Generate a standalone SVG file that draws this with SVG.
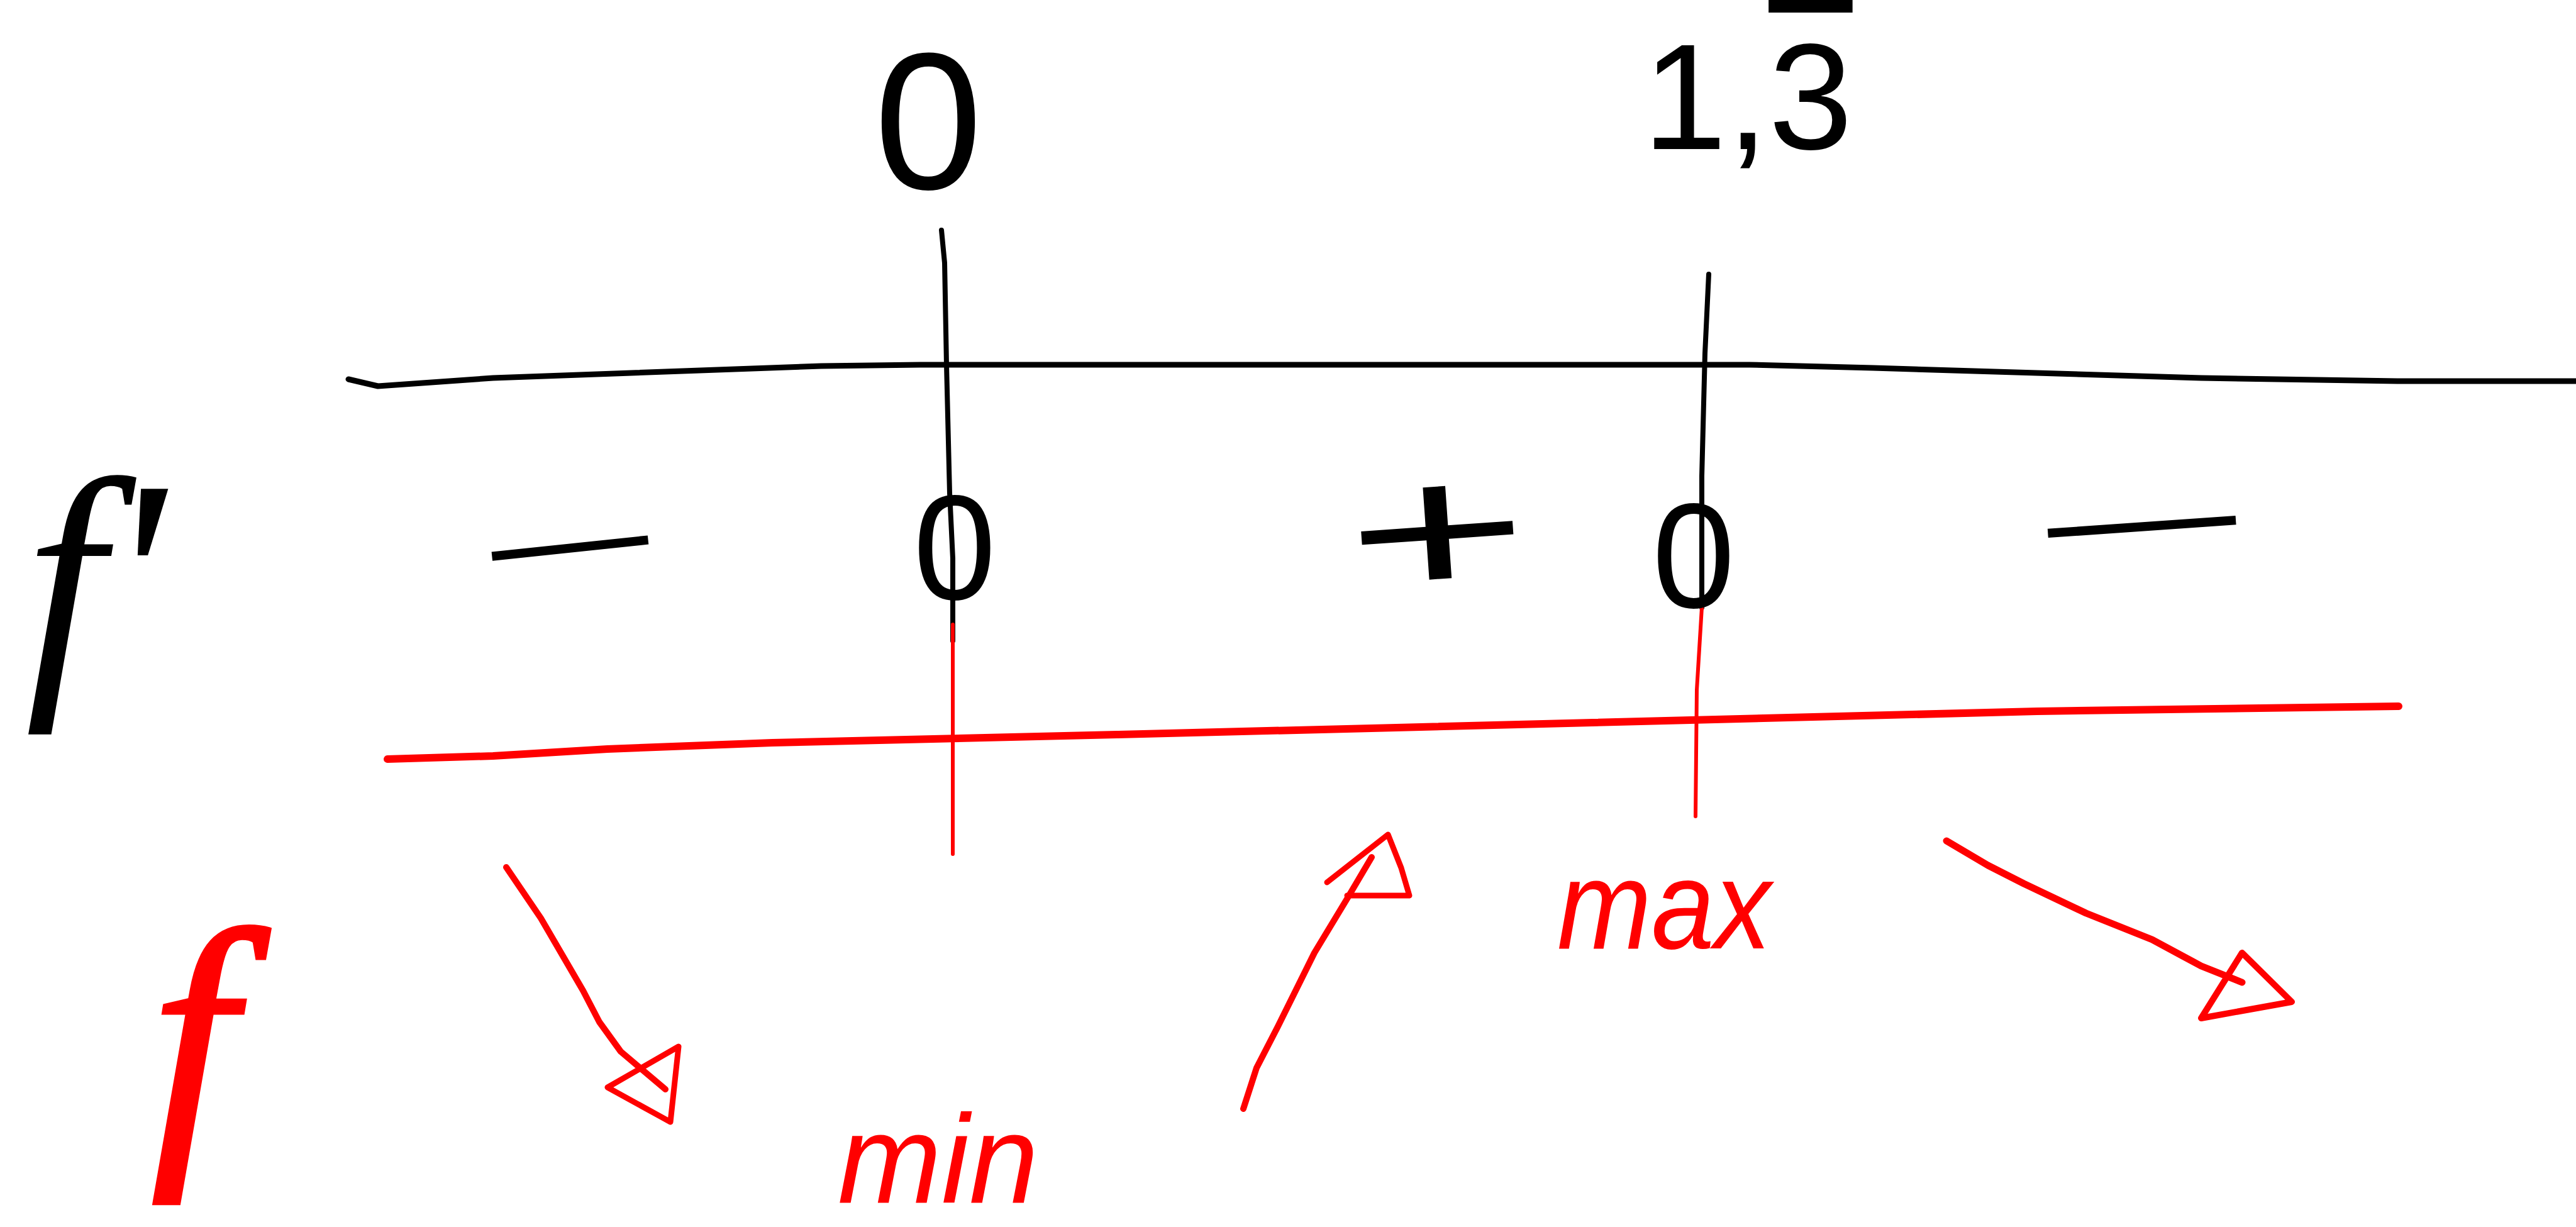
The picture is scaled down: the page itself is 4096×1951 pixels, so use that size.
<svg xmlns="http://www.w3.org/2000/svg" width="4096" height="1951" viewBox="0 0 4096 1951">
<style>
.bk{fill:none;stroke:#000;stroke-linecap:round;stroke-linejoin:round}
.rd{fill:none;stroke:#f00;stroke-linecap:round;stroke-linejoin:round}
.tb{fill:#000;font-family:"Liberation Sans",Arial,sans-serif}
.tr{fill:#f00;font-family:"Liberation Sans",Arial,sans-serif;font-style:italic}
.fi{font-family:"Liberation Serif","Times New Roman",serif;font-style:italic}
</style>
<rect width="4096" height="1951" fill="#fff"/>
<g id="connectors">
  <path id="axis-top" class="bk" stroke-width="9" d="M554,603 L601,614 L784,601 L1306,582 L1463,580 L2782,580 L2978,585 L3500,601 L3814,606 L4096,606"/>
  <path id="axis-bottom" class="rd" stroke-width="12" d="M616,1207 L784,1202 L966,1191 L1228,1181 L1776,1168 L2220,1157 L3239,1131 L3814,1123"/>
  <path id="v0-black" class="bk" stroke-width="8" d="M1497,366 L1502,418 L1505,580 L1510,784 L1515,888 L1515,1019"/>
  <path id="v0-red" class="rd" stroke-width="6" d="M1515,993 L1515,1358"/>
  <path id="v13-black" class="bk" stroke-width="8" d="M2717,436 L2711,562 L2706,757 L2706,966"/>
  <path id="v13-red" class="rd" stroke-width="6" d="M2706,966 L2698,1097 L2696,1298"/>
  <g id="arrow-down-1">
    <path class="rd" stroke-width="10" d="M805,1379 L860,1460 L927,1575 L953,1625 L987,1672 L1058,1732"/>
    <path class="rd" stroke-width="9" d="M966,1729 L1079,1664 L1066,1784 Z"/>
  </g>
  <g id="arrow-up">
    <path class="rd" stroke-width="10" d="M1977,1763 L1998,1698 L2032,1632 L2090,1515 L2142,1429 L2181,1363"/>
    <path class="rd" stroke-width="9" d="M2110,1403 L2207,1327 L2228,1380 L2241,1424 L2142,1424"/>
  </g>
  <g id="arrow-down-2">
    <path class="rd" stroke-width="11" d="M3095,1337 L3161,1376 L3218,1405 L3317,1452 L3422,1494 L3500,1536 L3565,1562"/>
    <path class="rd" stroke-width="10" d="M3565,1515 L3500,1619 L3644,1593 Z"/>
  </g>
</g>
<g id="label-zero-top"><text class="tb" x="1476" y="300" font-size="310" text-anchor="middle">0</text></g>
<g id="label-onethree-top"><text class="tb" x="2612" y="237" font-size="240">1,<tspan text-decoration="overline">3</tspan></text></g>
<g id="label-fprime"><text class="tb fi" x="40" y="1072" font-size="450">f'</text></g>
<g id="sign-minus-left"><text class="tb" x="907" y="938" font-size="200" text-anchor="middle" textLength="300" lengthAdjust="spacingAndGlyphs" transform="rotate(-6 907 878)">−</text></g>
<g id="sign-zero-left"><text class="tb" x="1518" y="953" font-size="237" text-anchor="middle">0</text></g>
<g id="sign-plus"><text class="tb" x="2285" y="947" font-size="300" text-anchor="middle" textLength="290" lengthAdjust="spacingAndGlyphs" transform="rotate(-4 2285 841)">+</text></g>
<g id="sign-zero-right"><text class="tb" x="2693" y="966" font-size="237" text-anchor="middle">0</text></g>
<g id="sign-minus-right"><text class="tb" x="3406" y="904" font-size="200" text-anchor="middle" textLength="360" lengthAdjust="spacingAndGlyphs" transform="rotate(-4 3406 844)">−</text></g>
<g id="label-f"><text class="tr fi" x="240" y="1811" font-size="480" stroke="#f00" stroke-width="6">f</text></g>
<g id="label-min"><text class="tr" x="1332" y="1912" font-size="200" textLength="319" lengthAdjust="spacingAndGlyphs">min</text></g>
<g id="label-max"><text class="tr" x="2476" y="1508" font-size="200" textLength="340" lengthAdjust="spacingAndGlyphs">max</text></g>
</svg>
